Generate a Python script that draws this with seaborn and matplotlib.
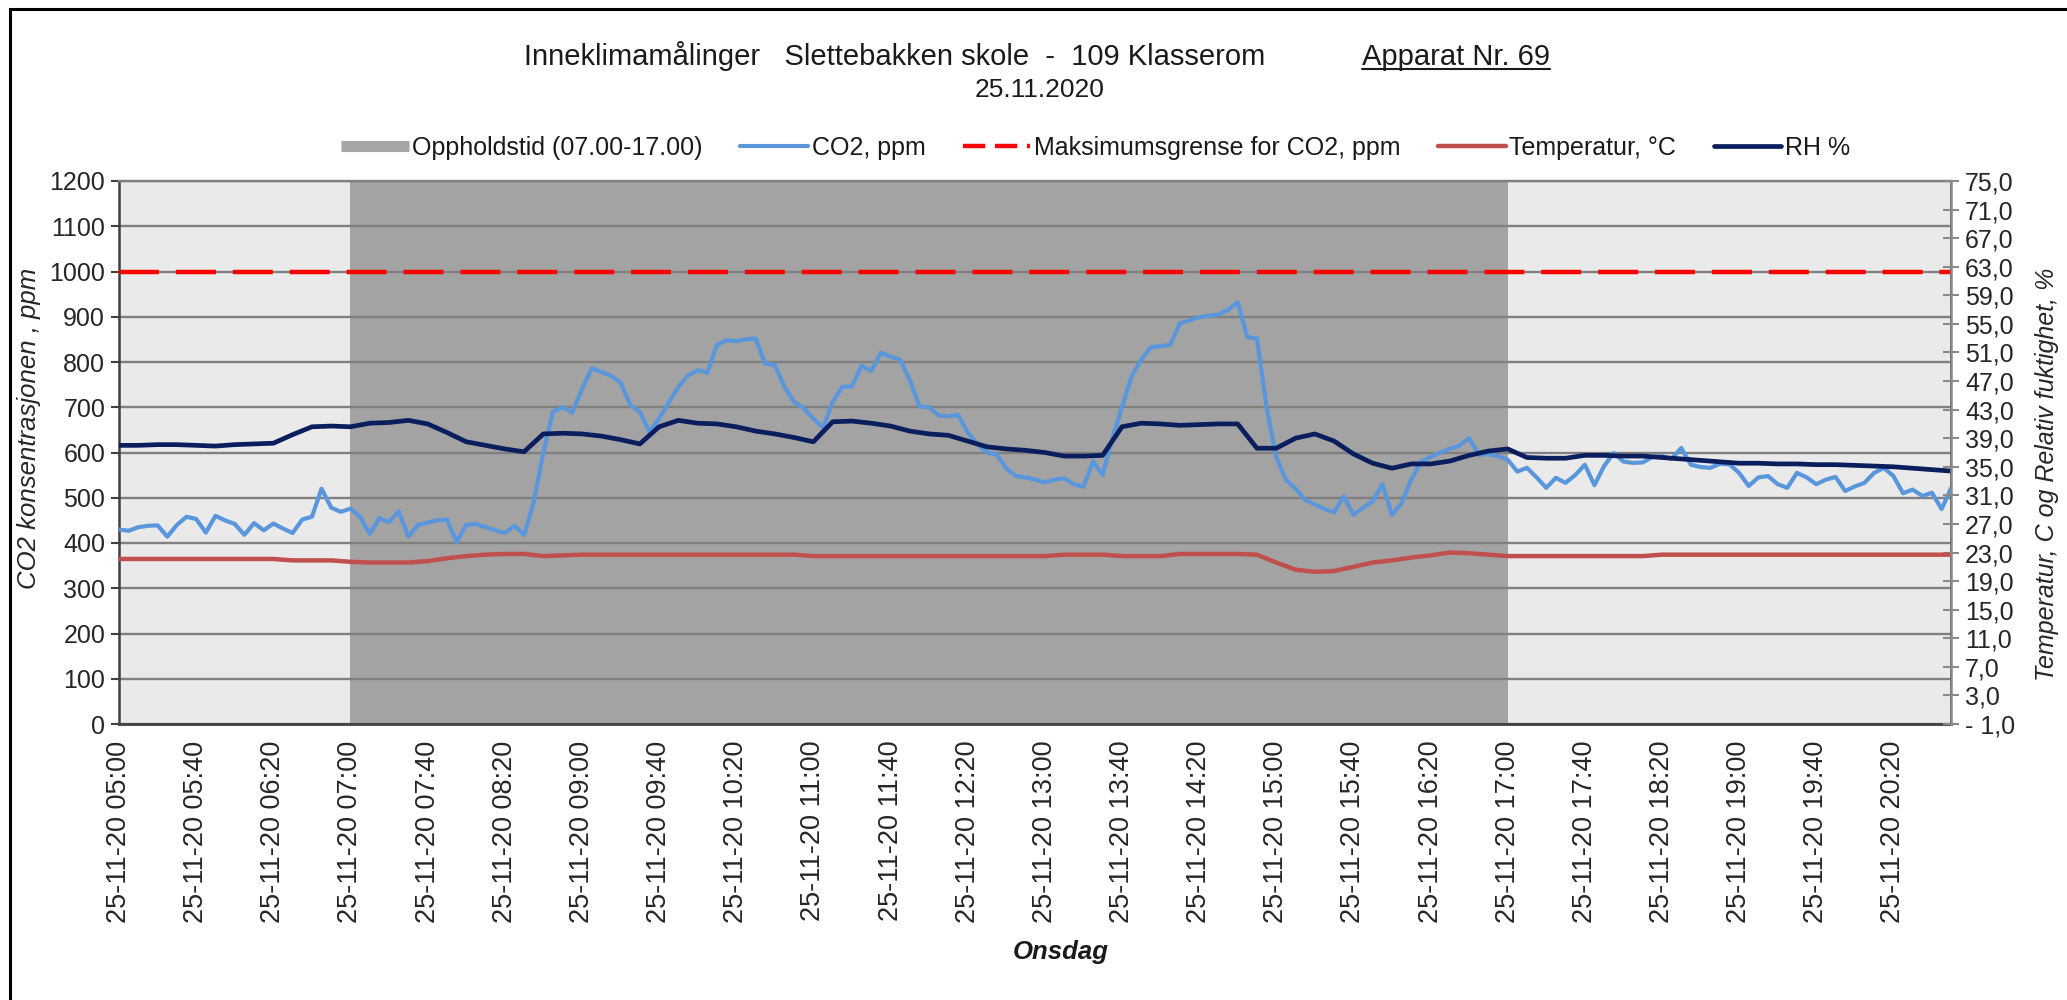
import numpy as np
import pandas as pd
import matplotlib.pyplot as plt
import matplotlib.dates as mdates
from matplotlib.lines import Line2D
from matplotlib.patches import Rectangle
from matplotlib.ticker import FixedLocator, FuncFormatter
import seaborn as sns

# values (25.11.2020, 109 Klasserom)
start_time = "2020-11-25 05:00"
end_time = "2020-11-25 20:50"

# CO2, ppm - every 5 min from 05:00
co2_ppm = [
    430, 427, 435, 438, 439, 414, 440, 458, 453, 423, 460, 450,
    442, 418, 444, 428, 443, 432, 422, 452, 458, 520, 478, 469,
    476, 458, 420, 455, 446, 470, 414, 440, 445, 450, 452, 402,
    440, 442, 435, 428, 422, 438, 418, 490, 600, 690, 700, 688,
    740, 786, 778, 770, 755, 705, 690, 645, 675, 710, 745, 770,
    782, 776, 838, 848, 846, 850, 852, 797, 793, 745, 712, 698,
    675, 655, 712, 745, 746, 792, 780, 820, 812, 805, 760, 702,
    700, 682, 680, 683, 645, 618, 600, 596, 565, 548, 545, 540,
    534, 540, 543, 530, 524, 580, 550, 630, 700, 768, 805, 833,
    835, 838, 885, 892, 899, 902, 905, 915, 932, 855, 852, 700,
    590, 540, 520, 495, 485, 475, 468, 503, 462, 478, 492, 530,
    462, 488, 540, 580, 590, 600, 608, 615, 632, 595, 596, 592,
    584, 558, 566, 545, 522, 544, 533, 550, 573, 528, 570, 599,
    580, 577, 578, 590, 592, 586, 610, 573, 568, 566, 575, 574,
    555, 526, 545, 548, 530, 522, 555, 545, 530, 540, 546, 515,
    525, 533, 555, 566, 548, 510, 518, 504, 511, 475, 522,
]

# RH % and temperatur - every 10 min from 05:00
rh_pct = [
    38.0, 38.0, 38.1, 38.1, 38.0, 37.9,
    38.1, 38.2, 38.3, 39.5, 40.6, 40.7,
    40.6, 41.1, 41.2, 41.5, 41.0, 39.8,
    38.5, 38.0, 37.5, 37.1, 39.6, 39.7,
    39.6, 39.3, 38.8, 38.2, 40.6, 41.5,
    41.1, 41.0, 40.6, 40.0, 39.6, 39.1,
    38.5, 41.3, 41.4, 41.1, 40.7, 40.0,
    39.6, 39.4, 38.6, 37.8, 37.5, 37.3,
    37.0, 36.5, 36.5, 36.6, 40.6, 41.1,
    41.0, 40.8, 40.9, 41.0, 41.0, 37.6,
    37.6, 39.0, 39.6, 38.6, 36.8, 35.5,
    34.8, 35.4, 35.4, 35.8, 36.6, 37.2,
    37.5, 36.3, 36.2, 36.2, 36.6, 36.6,
    36.5, 36.5, 36.3, 36.1, 35.9, 35.7,
    35.5, 35.5, 35.4, 35.4, 35.3, 35.3,
    35.2, 35.1, 35.0, 34.8, 34.6, 34.4,
]
temp_c = [
    22.1, 22.1, 22.1, 22.1, 22.1, 22.1,
    22.1, 22.1, 22.1, 21.9, 21.9, 21.9,
    21.7, 21.6, 21.6, 21.6, 21.8, 22.2,
    22.5, 22.7, 22.8, 22.8, 22.5, 22.6,
    22.7, 22.7, 22.7, 22.7, 22.7, 22.7,
    22.7, 22.7, 22.7, 22.7, 22.7, 22.7,
    22.5, 22.5, 22.5, 22.5, 22.5, 22.5,
    22.5, 22.5, 22.5, 22.5, 22.5, 22.5,
    22.5, 22.7, 22.7, 22.7, 22.5, 22.5,
    22.5, 22.8, 22.8, 22.8, 22.8, 22.7,
    21.6, 20.6, 20.3, 20.4, 21.0, 21.6,
    21.9, 22.3, 22.6, 23.0, 22.9, 22.7,
    22.5, 22.5, 22.5, 22.5, 22.5, 22.5,
    22.5, 22.5, 22.7, 22.7, 22.7, 22.7,
    22.7, 22.7, 22.7, 22.7, 22.7, 22.7,
    22.7, 22.7, 22.7, 22.7, 22.7, 22.7,
]

opphold_start = "2020-11-25 07:00"
opphold_end = "2020-11-25 17:00"
co2_max = 1000

left_ticks = list(range(0, 1201, 100))
right_ticks = list(range(-1, 76, 4))

df_co2 = pd.DataFrame({
    "tid": pd.date_range(start_time, periods=len(co2_ppm), freq="5min"),
    "co2": co2_ppm,
})
df_klima = pd.DataFrame({
    "tid": pd.date_range(start_time, periods=len(rh_pct), freq="10min"),
    "rh": rh_pct,
    "temp": temp_c,
})

c_co2 = "#5A96DC"
c_rh = "#0A1E5E"
c_temp = "#C0504D"
c_max = "#FF0000"
c_opphold = "#A3A3A3"
c_grid = "#808080"

sns.set_theme(style="white")
plt.rcParams["font.family"] = ["Liberation Sans", "DejaVu Sans"]
plt.rcParams["text.color"] = "#1a1a1a"

fig = plt.figure(figsize=(20.67, 10), dpi=100)
fig.subplots_adjust(left=0.0576, right=0.944, top=0.819, bottom=0.276)
ax = fig.add_subplot(111)
ax.set_facecolor("#EAEAEA")

ax.axvspan(pd.Timestamp(opphold_start), pd.Timestamp(opphold_end),
           color=c_opphold, lw=0, zorder=1)

ax.set_axisbelow("line")
ax.yaxis.grid(True, color=c_grid, lw=1.7)
ax.xaxis.grid(False)

sns.lineplot(data=df_co2, x="tid", y="co2", ax=ax, color=c_co2, lw=3.0, zorder=3)
ax.axhline(co2_max, color=c_max, lw=3.2, dashes=(9, 3.8), zorder=3)

ax2 = ax.twinx()
sns.lineplot(data=df_klima, x="tid", y="temp", ax=ax2, color=c_temp, lw=3.2)
sns.lineplot(data=df_klima, x="tid", y="rh", ax=ax2, color=c_rh, lw=3.4)

ax.set_xlim(pd.Timestamp(start_time), pd.Timestamp(end_time))
ax.set_ylim(0, 1200)
ax2.set_ylim(-1, 75)

# x axis: tick every 20 min, label every 40 min
label_times = pd.date_range(start_time, end_time, freq="40min")
minor_times = pd.date_range(start_time, end_time, freq="20min")
ax.xaxis.set_major_locator(FixedLocator(mdates.date2num(label_times)))
ax.xaxis.set_minor_locator(FixedLocator(mdates.date2num(minor_times)))
ax.xaxis.set_major_formatter(mdates.DateFormatter("%d-%m-%y %H:%M"))
ax.tick_params(axis="x", which="both", direction="inout", length=12, width=1.5,
               color="#404040", labelsize=19.5, labelrotation=90, pad=6)
ax.tick_params(axis="y", direction="out", length=6, width=1.5, color="#404040",
               labelsize=18, pad=4, left=True)
ax.set_yticks(left_ticks)

ax2.set_yticks(right_ticks)
ax2.yaxis.set_major_formatter(FuncFormatter(
    lambda v, p: ("- " if v < 0 else "") + f"{abs(v):.1f}".replace(".", ",")))
ax2.tick_params(axis="y", direction="inout", length=12, width=1.5, color="#8a8a8a",
                labelsize=18, pad=4, right=True)

for a in (ax, ax2):
    a.set_xlabel("")
    a.set_ylabel("")
    for s in a.spines.values():
        s.set_visible(True)
ax.spines["left"].set_color("#404040")
ax.spines["bottom"].set_color("#404040")
ax.spines["left"].set_linewidth(1.8)
ax.spines["bottom"].set_linewidth(2.0)
ax.spines["top"].set_color(c_grid)
ax.spines["top"].set_linewidth(1.7)
ax2.spines["right"].set_color("#8a8a8a")
ax2.spines["right"].set_linewidth(1.8)
ax2.spines["left"].set_visible(False)
ax2.spines["top"].set_visible(False)
ax2.spines["bottom"].set_visible(False)

ax.set_ylabel("CO2 konsentrasjonen , ppm", fontsize=18.5, style="italic")
ax.yaxis.set_label_coords(-0.0426, 0.545)
ax2.set_ylabel("Temperatur, C og Relativ fuktighet, %", fontsize=18, style="italic")
ax2.yaxis.set_label_coords(1.0455, 0.46)

fig.text(1061 / 2067, 1 - 952 / 1000, "Onsdag", fontsize=18.5, fontweight="bold",
         style="italic", ha="center", va="center")

# title
fig.text(524 / 2067, 0.935, "Inneklimamålinger   Slettebakken skole  -  109 Klasserom",
         fontsize=21, ha="left", va="baseline")
app = fig.text(1362 / 2067, 0.935, "Apparat Nr. 69", fontsize=21, ha="left", va="baseline")
fig.text(1040 / 2067, 0.903, "25.11.2020", fontsize=19, ha="center", va="baseline")

# legend
handles = [
    Line2D([], [], color="#A5A5A5", lw=8, solid_capstyle="butt"),
    Line2D([], [], color=c_co2, lw=3),
    Line2D([], [], color=c_max, lw=3.2, dashes=(5, 2.2)),
    Line2D([], [], color=c_temp, lw=3.2),
    Line2D([], [], color=c_rh, lw=3.4),
]
labels = ["Oppholdstid (07.00-17.00)", "CO2, ppm", "Maksimumsgrense for CO2, ppm",
          "Temperatur, °C", "RH %"]
fig.legend(handles, labels, loc="center", bbox_to_anchor=(0.530, 1 - 148 / 1000),
           ncol=5, frameon=False, fontsize=18, handlelength=2.7, handletextpad=0.15,
           columnspacing=1.5)

# outer frame
fig.add_artist(Rectangle((10 / 2067, -0.05), 1.2, 0.05 + (1 - 9 / 1000),
                         transform=fig.transFigure, fill=False, ec="black", lw=2.2))

# underline for "Apparat Nr. 69"
fig.canvas.draw()
bb = app.get_window_extent()
y_line = 0.935 - 4 / 1000
fig.add_artist(Line2D([bb.x0 / 2067, bb.x1 / 2067], [y_line, y_line],
                      transform=fig.transFigure, color="#1a1a1a", lw=1.5))

plt.savefig("out.png", dpi=100)
